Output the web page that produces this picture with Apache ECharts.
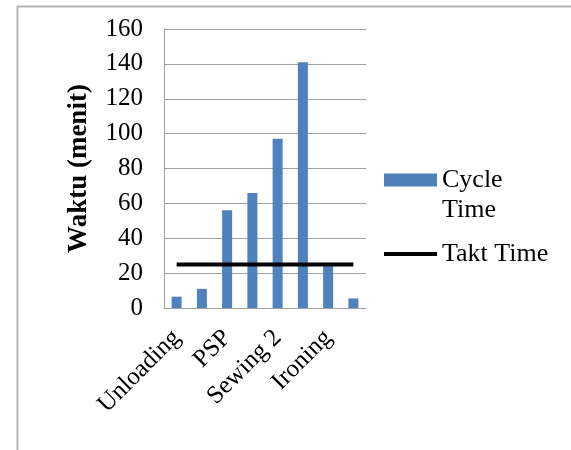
<!DOCTYPE html>
<html>
<head>
<meta charset="utf-8">
<script src="https://cdn.jsdelivr.net/npm/echarts@6/dist/echarts.min.js"></script>
<style>html,body{margin:0;padding:0;background:#fff}#c{width:571px;height:450px}</style>
</head>
<body>
<div id="c"></div>
<script>
var categories = ['Unloading', 'Cutting', 'PSP', 'Sewing 1', 'Sewing 2', 'Sewing 3', 'Ironing', 'Packing'];
var cycleTime = [6.5, 11, 56, 66, 97, 141, 24, 5.5];
var taktTime = [25, 25, 25, 25, 25, 25, 25, 25];
var yTicks = { min: 0, max: 160, interval: 20 };

var font = 'Liberation Serif, Times New Roman, serif';
var chart = echarts.init(document.getElementById('c'));
chart.setOption({
  animation: false,
  backgroundColor: '#fff',
  graphic: [{
    type: 'rect', left: 15, top: 4, shape: { width: 620, height: 520 },
    style: { fill: 'none', stroke: '#b4b4b4', lineWidth: 2 }, silent: true
  }],
  grid: { left: 164, right: 205, top: 29, bottom: 142 },
  xAxis: {
    type: 'category',
    data: categories,
    axisLine: { lineStyle: { color: '#a0a0a0', width: 1 } },
    axisTick: { show: false },
    axisLabel: { interval: 1, rotate: 45, fontSize: 25, fontFamily: font, color: '#000', margin: 26 }
  },
  yAxis: {
    type: 'value',
    min: yTicks.min, max: yTicks.max, interval: yTicks.interval,
    name: 'Waktu (menit)',
    nameLocation: 'middle',
    nameGap: 71,
    nameTextStyle: { fontSize: 27, fontWeight: 'bold', fontFamily: font, color: '#000' },
    axisLine: { show: true, lineStyle: { color: '#a0a0a0', width: 1 } },
    axisTick: { show: false },
    splitLine: { lineStyle: { color: '#a0a0a0', width: 1 } },
    axisLabel: { fontSize: 25, fontFamily: font, color: '#000', margin: 21 }
  },
  legend: [{
    left: 379, top: 132, orient: 'vertical',
    itemWidth: 53, itemHeight: 13, itemGap: 0,
    data: [{ name: 'Cycle Time', icon: 'rect' }],
    formatter: function () { return '{s| }\n{a|Cycle}\n{a|Time}'; },
    textStyle: {
      fontSize: 26, fontFamily: font, color: '#000',
      rich: {
        s: { fontSize: 26, lineHeight: 30, fontFamily: font },
        a: { fontSize: 26, lineHeight: 30, fontFamily: font, color: '#000' }
      }
    }
  }, {
    left: 379, top: 234, orient: 'vertical',
    itemWidth: 53, itemHeight: 4, itemGap: 0,
    data: [{ name: 'Takt Time', icon: 'rect' }],
    textStyle: { fontSize: 26, lineHeight: 30, fontFamily: font, color: '#000' }
  }],
  series: [{
    name: 'Cycle Time',
    type: 'bar',
    data: cycleTime,
    barWidth: 10,
    itemStyle: { color: '#4f81bd' }
  }, {
    name: 'Takt Time',
    type: 'line',
    data: taktTime,
    symbol: 'none',
    lineStyle: { color: '#000', width: 4 },
    itemStyle: { color: '#000' }
  }]
});
</script>
</body>
</html>
